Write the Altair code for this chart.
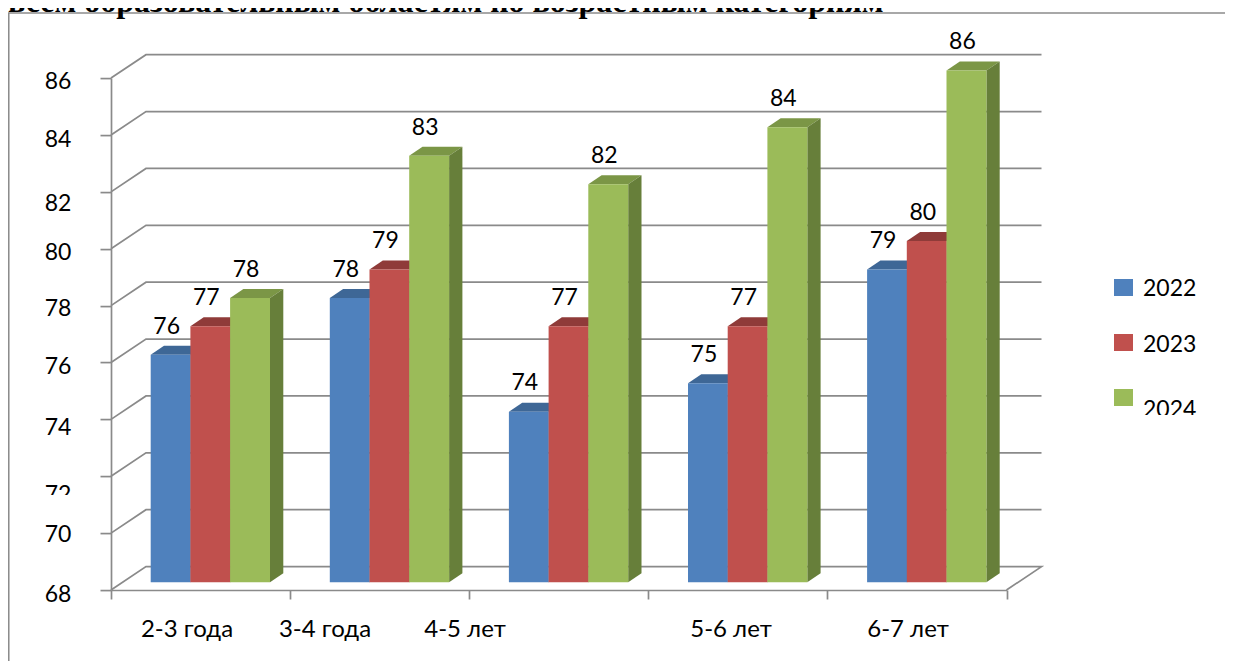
import altair as alt
import pandas as pd

categories = ["2-3 года", "3-4 года", "4-5 лет", "5-6 лет", "6-7 лет"]
years = ["2022", "2023", "2024"]
v2022 = [76, 78, 74, 75, 79]
v2023 = [77, 79, 77, 77, 80]
v2024 = [78, 83, 82, 84, 86]
y_ticks = [68, 70, 72, 74, 76, 78, 80, 82, 84, 86]
title_text = "всем образовательным областям по возрастным категориям"

front_colors = ["#4F81BD", "#C0504D", "#9BBB59"]
top_colors = ["#3E6796", "#8F3B39", "#7B9646"]
side_colors = ["#2F4D70", "#6E2C2B", "#677F3A"]

# Layout: the page position of the scale's ends, in pixels
X0, Y0, STEP, UNIT = 111.0, 590.0, 179.1, 28.44
PLOT_W, PLOT_H = STEP * 5, UNIT * 18


def dx(px):
    return px / STEP


def dy(px):
    return px / UNIT


def xp(px):
    return (px - X0) / STEP


def yp(py):
    return 68 + (Y0 - py) / UNIT


x_scale = alt.Scale(domain=[0, 5], nice=False, zero=False)
y_scale = alt.Scale(domain=[68, 86], nice=False, zero=False)
GRAY = "#8A8A8A"
FONT = "Lato"
TEXT_SHIFT = 1.8
WALL_X, WALL_Y = dx(35), dy(23.4)
BAR_W, BAR_X0, BAR_LIFT = dx(39.9), dx(39.7), dy(7.7)
DEPTH_X, DEPTH_Y = dx(13.3), dy(9)

x_axis = alt.Axis(values=list(range(6)), labels=False, title=None, grid=False,
                  tickSize=9, tickWidth=1.7, tickColor=GRAY, domainWidth=1.7, domainColor=GRAY)
y_axis = alt.Axis(values=y_ticks, labels=False, title=None, grid=False,
                  tickSize=11, tickWidth=1.7, tickColor=GRAY, domainWidth=1.7, domainColor=GRAY)

X = lambda f="x": alt.X(f"{f}:Q", scale=x_scale, axis=x_axis)
Y = lambda f="y": alt.Y(f"{f}:Q", scale=y_scale, axis=y_axis)

layers = []

# Frame around the chart
frame = pd.DataFrame({"x": [xp(8.7), xp(8.7), xp(1233)], "y": [yp(670), yp(13), yp(13)], "o": [0, 1, 2]})
layers.append(alt.Chart(frame).mark_line(color="#8C8C8C", strokeWidth=1.7).encode(x=X(), y=Y(), order="o:Q"))

# Back wall grid lines with the diagonal returning to the value axis
rows = []
for t in y_ticks:
    rows.append({"t": t, "o": 0, "x": 0, "y": t})
    rows.append({"t": t, "o": 1, "x": WALL_X, "y": t + WALL_Y})
    rows.append({"t": t, "o": 2, "x": 5 + WALL_X, "y": t + WALL_Y})
rows.append({"t": 68, "o": 3, "x": 5, "y": 68})
layers.append(alt.Chart(pd.DataFrame(rows)).mark_line(color=GRAY, strokeWidth=1.7).encode(
    x=X(), y=Y(), detail="t:N", order="o:Q"))

# Bars: a top, a side and a front face per bar, drawn left to right
series = [v2022, v2023, v2024]
for s, values in enumerate(series):
    tops, sides, fronts = [], [], []
    for c, v in enumerate(values):
        x0 = c + xp(150.7) + s * BAR_X0
        x1 = x0 + BAR_W
        y1 = v + BAR_LIFT
        y0 = 68 + BAR_LIFT
        fronts.append({"x": x0, "x2": x1, "y": y0, "y2": y1})
        tops += [
            {"b": c, "x": x0, "y": y1, "y2": y1},
            {"b": c, "x": x0 + DEPTH_X, "y": y1, "y2": y1 + DEPTH_Y},
            {"b": c, "x": x1, "y": y1, "y2": y1 + DEPTH_Y},
            {"b": c, "x": x1 + DEPTH_X, "y": y1 + DEPTH_Y, "y2": y1 + DEPTH_Y},
        ]
        sides += [
            {"b": c, "x": x1, "y": y0, "y2": y1},
            {"b": c, "x": x1 + DEPTH_X, "y": y0 + DEPTH_Y, "y2": y1 + DEPTH_Y},
        ]
    layers.append(alt.Chart(pd.DataFrame(tops)).mark_area(color=top_colors[s], orient="vertical").encode(
        x=X(), y=Y(), y2="y2:Q", detail="b:N"))
    layers.append(alt.Chart(pd.DataFrame(sides)).mark_area(color=side_colors[s], orient="vertical").encode(
        x=X(), y=Y(), y2="y2:Q", detail="b:N"))
    layers.append(alt.Chart(pd.DataFrame(fronts)).mark_rect(color=front_colors[s]).encode(
        x=X(), x2="x2:Q", y=Y(), y2="y2:Q"))

# Value labels above the bars
labels = []
for s, values in enumerate(series):
    for c, v in enumerate(values):
        labels.append({"x": c + xp(150.7) + s * BAR_X0 + BAR_W / 2 - dx(4),
                       "y": v + BAR_LIFT + dy(30), "t": str(v)})
text_base = dict(font=FONT, fontSize=23, color="#000000", baseline="middle", align="center", dy=TEXT_SHIFT)
layers.append(alt.Chart(pd.DataFrame(labels)).mark_text(**text_base).encode(x=X(), y=Y(), text="t:N"))

# Value-axis labels: the reference has them drifting off their ticks
y_label_px = [593, 533, 493.5, 426, 365, 307, 251, 202, 137.7, 80]
layers.append(alt.Chart(pd.DataFrame({
    "x": [xp(58)] * len(y_ticks), "y": [yp(p) for p in y_label_px], "t": [str(t) for t in y_ticks]
})).mark_text(**text_base).encode(x=X(), y=Y(), text="t:N"))

# Category labels sit off-centre in the reference too
cat_label_px = [187, 325, 465, 731, 908]
layers.append(alt.Chart(pd.DataFrame({
    "x": [xp(p) for p in cat_label_px], "y": [yp(628)] * 5, "t": categories
})).mark_text(font=FONT, fontSize=24, color="#000000", baseline="middle", align="center", dy=TEXT_SHIFT)
    .encode(x=X(), y=Y(), text="t:N"))

# Legend
legend_sq_px = [279, 334, 389]
legend_txt_px = [287, 343, 408]
legend_sq = pd.DataFrame({"x": [xp(1114)] * 3, "x2": [xp(1133)] * 3,
                          "y": [yp(p) for p in legend_sq_px], "y2": [yp(p + 17) for p in legend_sq_px],
                          "k": years})
layers.append(alt.Chart(legend_sq).mark_rect().encode(
    x=X(), x2="x2:Q", y=Y(), y2="y2:Q",
    color=alt.Color("k:N", scale=alt.Scale(domain=years, range=front_colors), legend=None)))
layers.append(alt.Chart(pd.DataFrame({"x": [xp(1143)] * 3, "y": [yp(p) for p in legend_txt_px], "t": years}))
              .mark_text(font=FONT, fontSize=23, color="#000000", baseline="middle", align="left", dy=TEXT_SHIFT)
              .encode(x=X(), y=Y(), text="t:N"))

# White boxes that cut the "72" and "2024" labels, as in the reference
cut = pd.DataFrame({"x": [xp(40), xp(1140)], "x2": [xp(80), xp(1205)],
                    "y": [yp(495), yp(415)], "y2": [yp(506), yp(430)]})
layers.append(alt.Chart(cut).mark_rect(color="#FFFFFF").encode(x=X(), x2="x2:Q", y=Y(), y2="y2:Q"))

# Heading cut by the top edge of the drawing, with its lower part showing as in the reference
layers.append(alt.Chart(pd.DataFrame({"x": [xp(8)], "y": [yp(12)], "t": [title_text]}))
              .mark_text(font="Liberation Serif", fontWeight="bold", fontSize=32, color="#000000",
                         baseline="alphabetic", align="left")
              .encode(x=X(), y=Y(), text="t:N"))

chart = alt.layer(*layers).properties(
    width=PLOT_W, height=PLOT_H,
    padding={"left": X0 - 8, "top": Y0 - PLOT_H - 8, "right": 1217 - (X0 - 8) - PLOT_W,
             "bottom": 653 - (Y0 - 8)},
    autosize=alt.AutoSizeParams(type="none"),
).configure_view(stroke=None)

chart.save("out.html", embed_options={"renderer": "svg", "actions": False})
